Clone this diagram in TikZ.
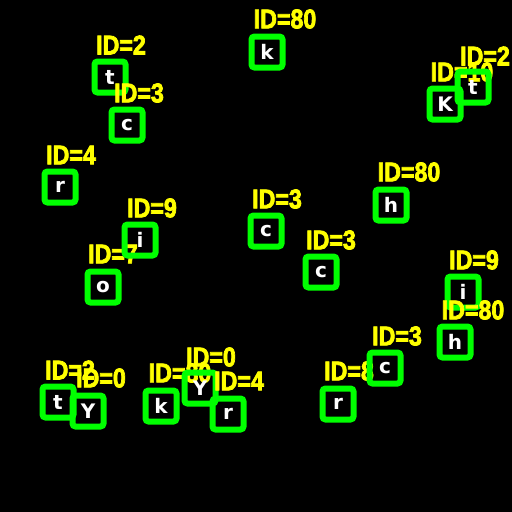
\documentclass[tikz,border=0pt]{standalone}
\usepackage{fontspec}
\setmainfont{Liberation Sans}
\newfontfamily\labfont{Liberation Sans}[FakeBold=3]
\newfontfamily\letfont{DejaVu Sans}
\definecolor{boxgreen}{RGB}{0,255,0}
\definecolor{labyellow}{RGB}{255,255,0}
\tikzset{
  detbox/.style={draw=boxgreen, line width=6pt, rounded corners=3pt, minimum width=31pt, minimum height=31pt, inner sep=0pt, text=white, font=\letfont\bfseries\fontsize{20}{20}\selectfont},
  idlab/.style={text=labyellow, inner sep=0pt, font=\labfont\bfseries\fontsize{27}{27}\selectfont, xscale=0.86}
}
\begin{document}
\begin{tikzpicture}[x=1pt,y=-1pt]
\fill[black] (0,0) rectangle (512,512);
\useasboundingbox (0,0) rectangle (512,512);
% top k
\node[detbox] (b1) at (267,52) {k};
\node[idlab] (l1) at (285,19) {ID=80};
% top-left t
\node[detbox] (b2) at (110,77) {t};
\node[idlab] (l2) at (121,45) {ID=2};
% c
\node[detbox] (b3) at (127,125) {c};
\node[idlab] (l3) at (139,93) {ID=3};
% r
\node[detbox] (b4) at (60,187) {r};
\node[idlab] (l4) at (71,155) {ID=4};
% o
\node[detbox] (b6) at (103,287) {o};
\node[idlab] (l6) at (113,254) {ID=7};
% i mid-left
\node[detbox] (b5) at (140,240) {i};
\node[idlab] (l5) at (152,208) {ID=9};
% c center
\node[detbox] (b7) at (266,231) {c};
\node[idlab] (l7) at (277,199) {ID=3};
% h
\node[detbox] (b8) at (391,205) {h};
\node[idlab] (l8) at (409,172) {ID=80};
% K
\node[detbox] (b9) at (445,104) {K};
\node[idlab] (l9) at (462,72) {ID=10};
% t right
\node[detbox] (b10) at (473,87) {t};
\node[idlab] (l10) at (485,56) {ID=2};
% c mid-right
\node[detbox] (b11) at (321,272) {c};
\node[idlab] (l11) at (331,240) {ID=3};
% i right
\node[detbox] (b12) at (463,292) {i};
\node[idlab] (l12) at (474,260) {ID=9};
% h right
\node[detbox] (b13) at (455,342) {h};
\node[idlab] (l13) at (473,310) {ID=80};
% r low
\node[detbox] (b15) at (338,404) {r};
\node[idlab] (l15) at (349,371) {ID=8};
% c low
\node[detbox] (b14) at (385,368) {c};
\node[idlab] (l14) at (397,336) {ID=3};
% t low-left
\node[detbox] (b16) at (58,402) {t};
\node[idlab] (l16) at (70,370) {ID=2};
% Y low-left
\node[detbox] (b17) at (88,411) {Y};
\node[idlab] (l17) at (101,378) {ID=0};
% k low
\node[detbox] (b18) at (161,406) {k};
\node[idlab] (l18) at (180,373) {ID=80};
% Y center
\node[detbox] (b19) at (200,388) {Y};
\node[idlab] (l19) at (211,357) {ID=0};
% r center
\node[detbox] (b20) at (228,414) {r};
\node[idlab] (l20) at (239,381) {ID=4};
\end{tikzpicture}
\end{document}
